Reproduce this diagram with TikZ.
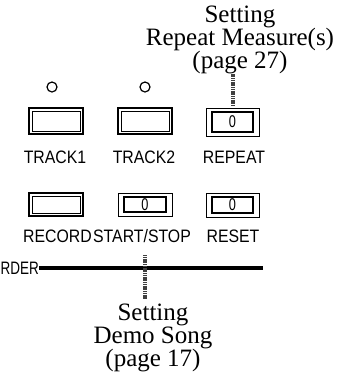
\documentclass[tikz,border=0pt]{standalone}
\usepackage{fontspec}
\setmainfont{Liberation Serif}
\newfontfamily\panelfont[FakeStretch=0.88]{Liberation Sans}
\newfontfamily\narrowfont[FakeStretch=0.75]{Liberation Sans}

\begin{document}
\begin{tikzpicture}[x=1pt,y=-1pt,
  plainkey/.style={draw,line width=1.6pt,inner sep=0pt,minimum width=54pt,
    path picture={\draw[line width=0.8pt]
      ([shift={(3pt,3pt)}]path picture bounding box.south west) rectangle
      ([shift={(-3pt,-3pt)}]path picture bounding box.north east);}},
  digitkey/.style={draw,line width=0.9pt,inner sep=0pt,minimum width=53pt,
    font=\narrowfont\fontsize{17}{17}\selectfont,
    path picture={\draw[line width=2pt]
      ([shift={(6pt,4.5pt)}]path picture bounding box.south west) rectangle
      ([shift={(-6pt,-3.5pt)}]path picture bounding box.north east);}},
  keylabel/.style={anchor=base,inner sep=0pt,font=\panelfont\fontsize{18}{18}\selectfont},
  caption/.style={align=center,inner sep=0pt,font=\fontsize{25}{23}\selectfont},
  rope/.style={line width=4pt,black!75,dash pattern=on 1.2pt off 0.6pt}]
\path[use as bounding box] (0,0) rectangle (342,376);

\node[caption,anchor=north] (lblRepeat) at (240,6) {Setting\\Repeat Measure(s)\\(page 27)};

\draw[line width=1.2pt] (52,87) circle (5);
\draw[line width=1.2pt] (145,87) circle (5);

\node[plainkey,minimum height=26pt] (btnTrackA) at (56,121) {};
\node[plainkey,minimum height=26pt] (btnTrackB) at (145,121) {};
\node[digitkey,minimum height=28pt] (btnRepeat) at (232.5,122) {0};
\node[keylabel] (lblTrackA) at (55,163) {TRACK1};
\node[keylabel] (lblTrackB) at (144,163) {TRACK2};
\node[keylabel] (lblRepeatKey) at (234,163) {REPEAT};

\node[plainkey,minimum height=23pt] (btnRecord) at (56,204.5) {};
\node[digitkey,minimum height=23pt,minimum width=54pt] (btnStart) at (145,204.5) {0};
\node[digitkey,minimum height=24pt] (btnReset) at (232.5,205) {0};
\node[keylabel] (lblRecord) at (57.5,242) {RECORD};
\node[keylabel] (lblStart) at (142,242) {START/STOP};
\node[keylabel] (lblReset) at (233,242) {RESET};

\node[anchor=west,inner sep=0pt,font=\narrowfont\fontsize{18}{18}\selectfont] (lblRecorder) at (0.5,268) {RDER};
\coordinate (recEnd) at (263,268);
\draw[line width=3.2pt] (lblRecorder.east) -- (recEnd);

\node[caption,anchor=north] (lblDemo) at (153,304) {Setting\\Demo Song\\(page 17)};
\coordinate (demoTap) at (145,255);

\draw[rope] (lblRepeat.south -| btnRepeat.north) -- ([yshift=2pt]btnRepeat.north);
\draw[rope,shorten >=5pt] (demoTap) -- (demoTap |- lblDemo.north);
\end{tikzpicture}
\end{document}
